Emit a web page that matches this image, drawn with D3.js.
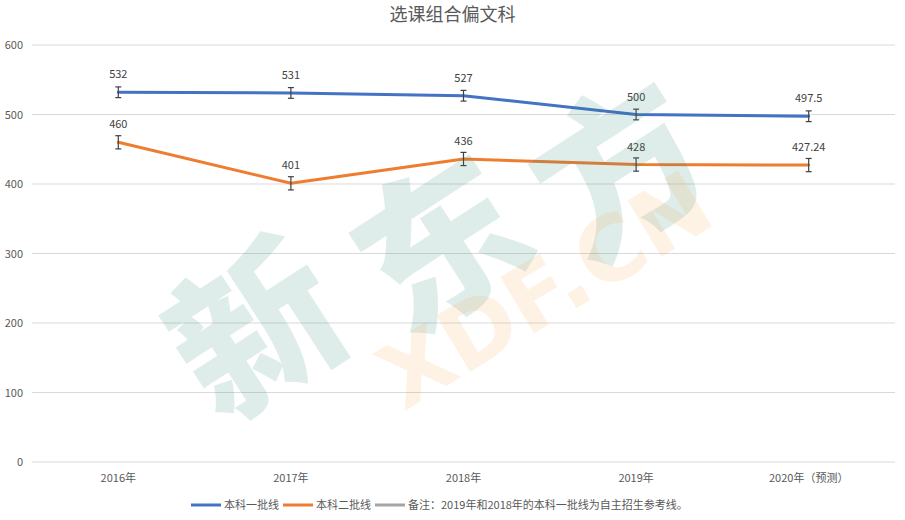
<!DOCTYPE html>
<html><head><meta charset="utf-8">
<script src="https://cdn.jsdelivr.net/npm/d3@7"></script>
<style>body{margin:0;background:#fff}svg{display:block;font-family:"Noto Sans CJK SC","Noto Sans",sans-serif}</style>
</head><body><svg id="c" width="905" height="520"></svg>
<script>
const categories = ["2016年","2017年","2018年","2019年","2020年（预测）"];
const firstTier = [532, 531, 527, 500, 497.5];
const secondTier = [460, 401, 436, 428, 427.24];
const firstErr = [7.7, 7.7, 7.7, 7.7, 7.7];
const secondErr = [9.5, 9.5, 9.5, 9.5, 9.5];
const firstLabels = ["532","531","527","500","497.5"];
const secondLabels = ["460","401","436","428","427.24"];
const yTicks = [0, 100, 200, 300, 400, 500, 600];
const seriesNames = ["本科一批线","本科二批线","备注：2019年和2018年的本科一批线为自主招生参考线。"];
const chartTitle = "选课组合偏文科";
const watermarkChars = ["新","东","方"];
const watermarkLatin = "XDF.CN";

(function(){
const svg = d3.select("#c");
const W = 905;
const pl = 32, pr = 895, pt = 45, pb = 462;
const x = d3.scaleBand().domain(categories).range([pl, pr]);
const y = d3.scaleLinear().domain([0, 600]).range([pb, pt]);
const cx = c => x(c) + x.bandwidth() / 2;

svg.append("text").attr("x", W/2).attr("y", 21).attr("text-anchor","middle")
  .attr("font-size", 18).attr("fill", "#595959").text(chartTitle);

svg.append("g").selectAll("line").data(yTicks).join("line")
  .attr("x1", pl).attr("x2", pr).attr("y1", d => y(d)).attr("y2", d => y(d))
  .attr("stroke", "#d9d9d9").attr("stroke-width", 1);
svg.append("g").selectAll("text").data(yTicks).join("text")
  .attr("x", 23).attr("y", d => y(d) + 4).attr("text-anchor","end")
  .attr("font-size", 11).attr("fill", "#595959").text(d => d);
svg.append("g").selectAll("text").data(categories).join("text")
  .attr("x", d => cx(d)).attr("y", 482).attr("text-anchor","middle")
  .attr("font-size", 11).attr("fill", "#595959").text(d => d);

const series = [
  {vals: firstTier, err: firstErr, labels: firstLabels, color: "#4472c4"},
  {vals: secondTier, err: secondErr, labels: secondLabels, color: "#ed7d31"}
];
const line = d3.line().x((d,i) => cx(categories[i])).y(d => y(d));
series.forEach(s => {
  svg.append("path").attr("d", line(s.vals)).attr("fill","none")
    .attr("stroke", s.color).attr("stroke-width", 3).attr("stroke-linecap","round")
    .attr("stroke-linejoin","round");
});
series.forEach(s => {
  const g = svg.append("g").attr("stroke", "#404040").attr("stroke-width", 1.2);
  s.vals.forEach((v,i) => {
    const px = cx(categories[i]);
    g.append("line").attr("x1", px).attr("x2", px).attr("y1", y(v + s.err[i])).attr("y2", y(v - s.err[i]));
    g.append("line").attr("x1", px-3).attr("x2", px+3).attr("y1", y(v + s.err[i])).attr("y2", y(v + s.err[i]));
    g.append("line").attr("x1", px-3).attr("x2", px+3).attr("y1", y(v - s.err[i])).attr("y2", y(v - s.err[i]));
  });
  svg.append("g").selectAll("text").data(s.vals).join("text")
    .attr("x", (d,i) => cx(categories[i])).attr("y", d => y(d) - 14)
    .attr("text-anchor","middle").attr("font-size", 11).attr("fill", "#404040")
    .text((d,i) => s.labels[i]);
});

const legendColors = ["#4472c4", "#ed7d31", "#a5a5a5"];
let lx = 191;
const lg = svg.append("g");
seriesNames.forEach((n, i) => {
  lg.append("line").attr("x1", lx).attr("x2", lx + 30).attr("y1", 505).attr("y2", 505)
    .attr("stroke", legendColors[i]).attr("stroke-width", 3);
  const t = lg.append("text").attr("x", lx + 33).attr("y", 509).attr("font-size", 11)
    .attr("fill", "#595959").text(n);
  lx += 33 + t.node().getComputedTextLength() + 4;
});

// faint watermark overlay
const wm = svg.append("g").attr("pointer-events","none");
const wmPos = [[250, 320], [435, 235], [615, 160]];
watermarkChars.forEach((ch, i) => {
  wm.append("text").attr("transform", `translate(${wmPos[i][0]},${wmPos[i][1]}) rotate(-33)`)
    .attr("text-anchor","middle").attr("dominant-baseline","central")
    .attr("font-size", 165).attr("font-weight", 900).attr("fill", "#2e8a78").attr("opacity", 0.15)
    .text(ch);
});
wm.append("text").attr("transform", "translate(545,290) rotate(-31)")
  .attr("text-anchor","middle").attr("dominant-baseline","central")
  .attr("font-size", 90).attr("font-weight", 900).attr("fill", "#f7a13a").attr("opacity", 0.13)
  .attr("font-family", "DejaVu Sans").text(watermarkLatin);
})();
</script></body></html>
